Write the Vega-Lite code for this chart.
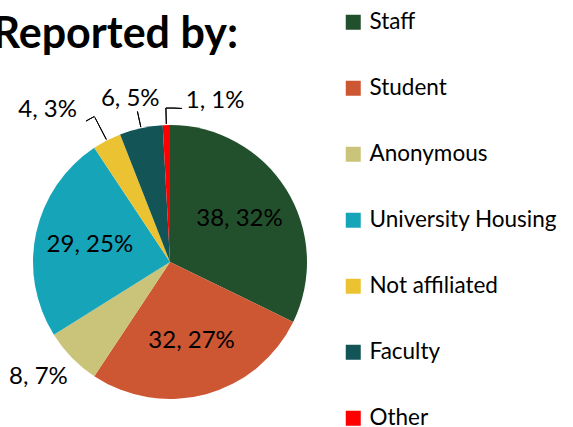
{
  "$schema": "https://vega.github.io/schema/vega-lite/v6.json",
  "width": 340,
  "height": 330,
  "autosize": "none",
  "padding": {"top": 97, "left": 0, "right": 233, "bottom": 0},
  "background": "white",
  "title": {"text": "Reported by:", "frame": "group", "anchor": "end", "dx": -102, "offset": -46, "font": "Lato", "fontSize": 43, "fontWeight": "bold", "color": "black"},
  "data": {"values": [
    {"who": "Staff", "count": 38, "label": "38, 32%"},
    {"who": "Student", "count": 32, "label": "32, 27%"},
    {"who": "Anonymous", "count": 8, "label": "8, 7%"},
    {"who": "University Housing", "count": 29, "label": "29, 25%"},
    {"who": "Not affiliated", "count": 4, "label": "4, 3%"},
    {"who": "Faculty", "count": 6, "label": "6, 5%"},
    {"who": "Other", "count": 1, "label": "1, 1%"}
  ]},
  "transform": [{"window": [{"op": "row_number", "as": "rank"}]}],
  "encoding": {
    "theta": {"field": "count", "type": "quantitative", "stack": true},
    "order": {"field": "rank", "type": "quantitative"}
  },
  "layer": [
    {
      "mark": {"type": "arc", "outerRadius": 137, "strokeWidth": 0},
      "encoding": {
        "color": {
          "field": "who", "type": "nominal",
          "scale": {"domain": ["Staff", "Student", "Anonymous", "University Housing", "Not affiliated", "Faculty", "Other"],
                    "range": ["#224F2C", "#CD5633", "#C9C47A", "#16A4B9", "#EBC332", "#135456", "#FF0000"]},
          "legend": {"orient": "none", "legendX": 342, "legendY": -86, "title": null, "symbolType": "square", "symbolSize": 225, "symbolStrokeWidth": 0, "labelOffset": 5, "labelFont": "Lato", "labelFontSize": 22.5, "labelColor": "black", "labelLimit": 0, "rowPadding": 43}
        }
      }
    },
    {
      "mark": {"type": "text", "radius": 82, "font": "Lato", "fontSize": 24, "color": "black", "align": "center", "baseline": "middle"},
      "encoding": {"text": {"condition": {"test": "datum.who === 'Staff' || datum.who === 'Student' || datum.who === 'University Housing'", "field": "label"}, "value": ""}}
    },
    {
      "mark": {"type": "text", "radius": 175, "thetaOffset": 0.052, "font": "Lato", "fontSize": 24, "color": "black", "align": "center", "baseline": "middle"},
      "encoding": {"text": {"condition": {"test": "datum.who === 'Anonymous'", "field": "label"}, "value": ""}}
    },
    {
      "mark": {"type": "text", "radius": 195, "thetaOffset": -0.199, "font": "Lato", "fontSize": 24, "color": "black", "align": "center", "baseline": "middle"},
      "encoding": {"text": {"condition": {"test": "datum.who === 'Not affiliated'", "field": "label"}, "value": ""}}
    },
    {
      "mark": {"type": "text", "radius": 168, "thetaOffset": -0.026, "font": "Lato", "fontSize": 24, "color": "black", "align": "center", "baseline": "middle"},
      "encoding": {"text": {"condition": {"test": "datum.who === 'Faculty'", "field": "label"}, "value": ""}}
    },
    {
      "mark": {"type": "text", "radius": 167, "thetaOffset": 0.30, "font": "Lato", "fontSize": 24, "color": "black", "align": "center", "baseline": "middle"},
      "encoding": {"text": {"condition": {"test": "datum.who === 'Other'", "field": "label"}, "value": ""}}
    },
    {
      "transform": [
        {"stack": "count", "sort": [{"field": "rank", "order": "ascending"}], "as": ["s0", "s1"]},
        {"calculate": "(datum.s0 + datum.s1) / 2", "as": "mid"},
        {"filter": "datum.who === 'Not affiliated'"}
      ],
      "mark": {"type": "arc", "innerRadius": 138, "outerRadius": 163, "fill": null, "stroke": "black", "strokeWidth": 1},
      "encoding": {
        "theta": {"field": "mid", "type": "quantitative", "stack": null},
        "theta2": {"field": "mid"}
      }
    },
    {
      "transform": [
        {"stack": "count", "sort": [{"field": "rank", "order": "ascending"}], "as": ["s0", "s1"]},
        {"calculate": "(datum.s0 + datum.s1) / 2", "as": "mid"},
        {"filter": "datum.who === 'Not affiliated'"}
      ],
      "mark": {"type": "arc", "innerRadius": 164, "outerRadius": 164, "theta2Offset": -0.058, "fill": null, "stroke": "black", "strokeWidth": 1},
      "encoding": {
        "theta": {"field": "mid", "type": "quantitative", "stack": null},
        "theta2": {"field": "mid"}
      }
    },
    {
      "transform": [
        {"stack": "count", "sort": [{"field": "rank", "order": "ascending"}], "as": ["s0", "s1"]},
        {"calculate": "(datum.s0 + datum.s1) / 2", "as": "mid"},
        {"filter": "datum.who === 'Faculty' || datum.who === 'Other'"}
      ],
      "mark": {"type": "arc", "innerRadius": 138, "outerRadius": 154, "fill": null, "stroke": "black", "strokeWidth": 1},
      "encoding": {
        "theta": {"field": "mid", "type": "quantitative", "stack": null},
        "theta2": {"field": "mid"}
      }
    },
    {
      "transform": [
        {"stack": "count", "sort": [{"field": "rank", "order": "ascending"}], "as": ["s0", "s1"]},
        {"calculate": "(datum.s0 + datum.s1) / 2", "as": "mid"},
        {"filter": "datum.who === 'Other'"}
      ],
      "mark": {"type": "arc", "innerRadius": 154, "outerRadius": 154, "theta2Offset": 0.105, "fill": null, "stroke": "black", "strokeWidth": 1},
      "encoding": {
        "theta": {"field": "mid", "type": "quantitative", "stack": null},
        "theta2": {"field": "mid"}
      }
    }
  ],
  "config": {"view": {"stroke": null}}
}
